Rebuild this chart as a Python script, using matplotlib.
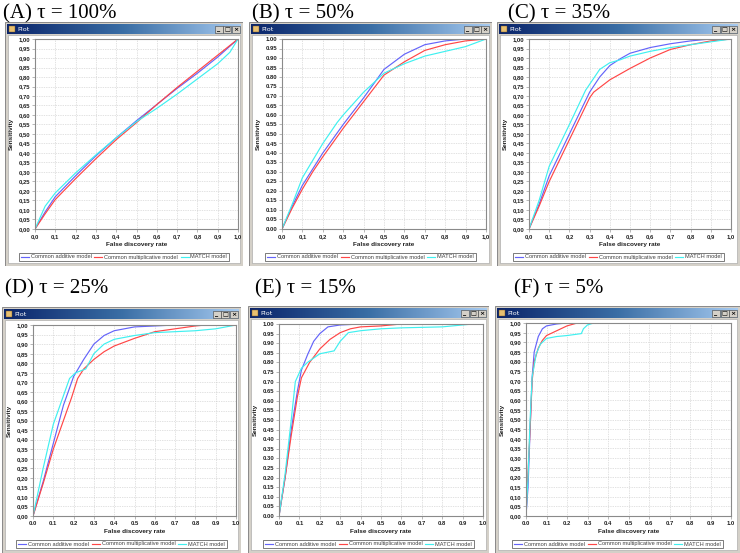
"""
Six ROC-style panels (sensitivity vs false discovery rate) drawn as
screenshots of small "Plot" windows, one per tau level.
"""

import numpy as np
import matplotlib
matplotlib.use("Agg")
import matplotlib.pyplot as plt
import matplotlib.ticker as mticker
from matplotlib.patches import Rectangle

# ── Data ────────────────────────────────────────────────────────────────────
MODELS = ["Common additive model", "Common multiplicative model", "MATCH model"]
COLORS = ["#6464fa", "#ff4646", "#3ff0f0"]

LABELS = ["(A) \u03c4 = 100%", "(B) \u03c4 = 50%", "(C) \u03c4 = 35%",
          "(D) \u03c4 = 25%", "(E) \u03c4 = 15%", "(F) \u03c4 = 5%"]
Y_SEP = [",", ".", ",", ",", ".", ","]   # decimal mark on the y ticks
X_SEP = [",", ",", ",", ".", ".", "."]   # decimal mark on the x ticks

# (A) tau = 100%
A_ADD_FDR = [0, 0.05, 0.1, 0.2, 0.3, 0.4, 0.5, 0.6, 0.7, 0.8, 0.9, 1.0]
A_ADD_SENS = [0, 0.09, 0.17, 0.28, 0.385, 0.48, 0.57, 0.655, 0.74, 0.82, 0.905, 1.0]
A_MUL_FDR = [0, 0.05, 0.1, 0.2, 0.3, 0.4, 0.5, 0.6, 0.7, 0.8, 0.9, 1.0]
A_MUL_SENS = [0, 0.08, 0.155, 0.265, 0.37, 0.47, 0.56, 0.655, 0.745, 0.83, 0.915, 1.0]
A_MAT_FDR = [0, 0.05, 0.1, 0.2, 0.3, 0.4, 0.5, 0.6, 0.7, 0.8, 0.9, 0.96, 1.0]
A_MAT_SENS = [0, 0.12, 0.19, 0.295, 0.39, 0.48, 0.565, 0.635, 0.71, 0.79, 0.87, 0.93, 1.0]

# (B) tau = 50%
B_ADD_FDR = [0, 0.05, 0.1, 0.2, 0.3, 0.4, 0.5, 0.6, 0.7, 0.8, 0.9, 1.0]
B_ADD_SENS = [0, 0.12, 0.23, 0.40, 0.55, 0.69, 0.84, 0.92, 0.97, 0.99, 1.0, 1.0]
B_MUL_FDR = [0, 0.05, 0.1, 0.15, 0.2, 0.3, 0.4, 0.5, 0.55, 0.6, 0.7, 0.8, 0.9, 1.0]
B_MUL_SENS = [0, 0.11, 0.21, 0.30, 0.38, 0.53, 0.67, 0.81, 0.845, 0.88, 0.94, 0.97, 0.99, 1.0]
B_MAT_FDR = [0, 0.05, 0.1, 0.15, 0.2, 0.27, 0.3, 0.4, 0.5, 0.6, 0.7, 0.8, 0.9, 1.0]
B_MAT_SENS = [0, 0.13, 0.27, 0.36, 0.45, 0.56, 0.60, 0.72, 0.82, 0.87, 0.91, 0.935, 0.96, 1.0]

# (C) tau = 35%
C_ADD_FDR = [0, 0.05, 0.1, 0.2, 0.3, 0.35, 0.4, 0.45, 0.5, 0.6, 0.7, 0.8, 0.9, 1.0]
C_ADD_SENS = [0, 0.13, 0.28, 0.50, 0.72, 0.80, 0.86, 0.895, 0.925, 0.955, 0.975, 0.99, 1.0, 1.0]
C_MUL_FDR = [0, 0.05, 0.1, 0.2, 0.25, 0.3, 0.32, 0.4, 0.5, 0.6, 0.7, 0.8, 0.9, 1.0]
C_MUL_SENS = [0, 0.12, 0.25, 0.47, 0.58, 0.69, 0.72, 0.785, 0.845, 0.90, 0.945, 0.97, 0.99, 1.0]
C_MAT_FDR = [0, 0.05, 0.1, 0.15, 0.2, 0.28, 0.35, 0.4, 0.45, 0.5, 0.6, 0.7, 0.8, 0.9, 1.0]
C_MAT_SENS = [0, 0.15, 0.33, 0.44, 0.55, 0.73, 0.84, 0.875, 0.89, 0.91, 0.935, 0.955, 0.97, 0.985, 1.0]

# (D) tau = 25%
D_ADD_FDR = [0, 0.05, 0.1, 0.15, 0.2, 0.25, 0.3, 0.35, 0.4, 0.5, 0.6, 0.7, 1.0]
D_ADD_SENS = [0, 0.18, 0.38, 0.58, 0.73, 0.82, 0.90, 0.945, 0.97, 0.99, 0.995, 1.0, 1.0]
D_MUL_FDR = [0, 0.05, 0.1, 0.15, 0.19, 0.22, 0.25, 0.3, 0.35, 0.4, 0.5, 0.6, 0.7, 0.8, 0.85, 1.0]
D_MUL_SENS = [0, 0.17, 0.35, 0.50, 0.62, 0.72, 0.77, 0.82, 0.86, 0.89, 0.93, 0.965, 0.98, 0.995, 1.0, 1.0]
D_MAT_FDR = [0, 0.05, 0.1, 0.15, 0.18, 0.21, 0.26, 0.3, 0.35, 0.4, 0.5, 0.6, 0.7, 0.8, 0.9, 1.0]
D_MAT_SENS = [0, 0.25, 0.48, 0.63, 0.72, 0.75, 0.77, 0.85, 0.90, 0.925, 0.945, 0.96, 0.965, 0.97, 0.98, 1.0]

# (E) tau = 15%
E_ADD_FDR = [0, 0.03, 0.06, 0.09, 0.11, 0.14, 0.17, 0.2, 0.24, 0.3, 0.4, 1.0]
E_ADD_SENS = [0, 0.2, 0.45, 0.65, 0.76, 0.84, 0.91, 0.95, 0.985, 0.995, 1.0, 1.0]
E_MUL_FDR = [0, 0.03, 0.06, 0.09, 0.11, 0.15, 0.2, 0.25, 0.3, 0.35, 0.4, 0.5, 0.6, 1.0]
E_MUL_SENS = [0, 0.2, 0.42, 0.62, 0.72, 0.80, 0.87, 0.92, 0.955, 0.975, 0.985, 0.99, 1.0, 1.0]
E_MAT_FDR = [0, 0.03, 0.06, 0.08, 0.11, 0.14, 0.2, 0.27, 0.3, 0.34, 0.4, 0.5, 0.6, 0.8, 0.95, 1.0]
E_MAT_SENS = [0, 0.22, 0.5, 0.7, 0.77, 0.80, 0.845, 0.86, 0.91, 0.955, 0.965, 0.975, 0.98, 0.985, 1.0, 1.0]

# (F) tau = 5%
F_ADD_FDR = [0, 0.01, 0.02, 0.03, 0.04, 0.06, 0.08, 0.1, 0.15, 0.2, 1.0]
F_ADD_SENS = [0, 0.15, 0.45, 0.72, 0.85, 0.93, 0.97, 0.985, 0.995, 1.0, 1.0]
F_MUL_FDR = [0, 0.005, 0.02, 0.03, 0.04, 0.06, 0.08, 0.1, 0.15, 0.2, 0.25, 1.0]
F_MUL_SENS = [0, 0.12, 0.45, 0.70, 0.80, 0.87, 0.91, 0.935, 0.96, 0.985, 1.0, 1.0]
F_MAT_FDR = [0, 0.01, 0.02, 0.03, 0.05, 0.07, 0.1, 0.15, 0.2, 0.27, 0.28, 0.3, 0.33, 1.0]
F_MAT_SENS = [0, 0.2, 0.5, 0.72, 0.84, 0.89, 0.92, 0.93, 0.935, 0.945, 0.97, 0.99, 1.0, 1.0]

CURVES = [
    [(A_ADD_FDR, A_ADD_SENS), (A_MUL_FDR, A_MUL_SENS), (A_MAT_FDR, A_MAT_SENS)],
    [(B_ADD_FDR, B_ADD_SENS), (B_MUL_FDR, B_MUL_SENS), (B_MAT_FDR, B_MAT_SENS)],
    [(C_ADD_FDR, C_ADD_SENS), (C_MUL_FDR, C_MUL_SENS), (C_MAT_FDR, C_MAT_SENS)],
    [(D_ADD_FDR, D_ADD_SENS), (D_MUL_FDR, D_MUL_SENS), (D_MAT_FDR, D_MAT_SENS)],
    [(E_ADD_FDR, E_ADD_SENS), (E_MUL_FDR, E_MUL_SENS), (E_MAT_FDR, E_MAT_SENS)],
    [(F_ADD_FDR, F_ADD_SENS), (F_MUL_FDR, F_MUL_SENS), (F_MAT_FDR, F_MAT_SENS)],
]

# ── Layout (pixels on a 740x553 canvas) ─────────────────────────────────────
W, H = 740, 553
# window box (x0, y0, x1, y1), plot box (x0, y0, x1, y1), label anchor (x, y)
WINDOWS = [(5, 22, 243, 266), (249, 22, 492, 266), (497, 22, 740, 266),
           (2, 307, 241, 553), (248, 306, 489, 553), (495, 306, 740, 553)]
PLOTS = [(35, 39, 238, 229), (282, 39, 486, 229), (529, 39, 731, 229),
         (33, 325, 236, 516), (279, 324, 483, 516), (526, 323, 731, 516)]
LABEL_POS = [(3, 14), (252, 14), (508, 14), (5, 289), (255, 289), (514, 289)]

SANS = "Liberation Sans"
SERIF = "Liberation Serif"


def fig_box(x0, y0, x1, y1):
    return [x0 / W, 1 - y1 / H, (x1 - x0) / W, (y1 - y0) / H]


def draw_window(fig, box):
    x0, y0, x1, y1 = box
    w, h = x1 - x0, y1 - y0
    ax = fig.add_axes(fig_box(*box), zorder=0)
    ax.set_xlim(0, w)
    ax.set_ylim(h, 0)
    ax.axis("off")
    ax.add_patch(Rectangle((0, 0), w, h, fc="#d4d0c8", ec="#7a7a7a", lw=0.6))
    ax.add_patch(Rectangle((3, 13), w - 6, h - 16, fc="white", ec="#a0a0a0", lw=0.4))
    # title bar gradient
    grad = np.linspace(0, 1, 256).reshape(1, -1)
    cmap = matplotlib.colors.LinearSegmentedColormap.from_list(
        "tb", ["#0a246a", "#3a6ea5", "#a6caf0"])
    ax.imshow(grad, cmap=cmap, extent=(2, w - 2, 12, 2), aspect="auto", zorder=2)
    ax.add_patch(Rectangle((4, 4), 6, 6, fc="#e8c070", ec="#705020", lw=0.3, zorder=3))
    ax.text(12, 7.2, "Plot", color="white", fontsize=4.6,
            family="DejaVu Sans", va="center", ha="left", zorder=3)
    for i, sym in enumerate(["_", "\u25a1", "\u00d7"]):
        bx = w - 28 + i * 8.5
        ax.add_patch(Rectangle((bx, 3.5), 8, 7, fc="#d4d0c8", ec="#404040", lw=0.4, zorder=3))
        ax.text(bx + 4, 7.2, sym, fontsize=4.5, ha="center", va="center",
                color="black", family="DejaVu Sans", fontweight="bold", zorder=4)
    return ax


def sep_formatter(fmt, sep):
    return mticker.FuncFormatter(lambda v, _: format(v, fmt).replace(".", sep))


fig = plt.figure(figsize=(W / 100, H / 100), dpi=100)
fig.patch.set_facecolor("white")

for i in range(6):
    draw_window(fig, WINDOWS[i])
    px0, py0, px1, py1 = PLOTS[i]
    ax = fig.add_axes(fig_box(*PLOTS[i]), zorder=2)
    ax.set_facecolor("white")
    for (fdr, sens), color, name in zip(CURVES[i], COLORS, MODELS):
        ax.plot(fdr, sens, color=color, lw=0.85, label=name)
    ax.set_xlim(0, 1)
    ax.set_ylim(0, 1)
    ax.xaxis.set_major_locator(mticker.MultipleLocator(0.1))
    ax.yaxis.set_major_locator(mticker.MultipleLocator(0.05))
    ax.xaxis.set_major_formatter(sep_formatter(".1f", X_SEP[i]))
    ax.yaxis.set_major_formatter(sep_formatter(".2f", Y_SEP[i]))
    ax.tick_params(labelsize=4.2, length=2, width=0.4, color="#808080", pad=1.5,
                   labelcolor="#202020")
    for lab in ax.get_xticklabels() + ax.get_yticklabels():
        lab.set_family(SANS)
        lab.set_fontweight("bold")
    ax.grid(True, color="#c4c4c4", lw=0.5, linestyle=(0, (1, 1.5)))
    for sp in ax.spines.values():
        sp.set_color("#8a8a8a")
        sp.set_linewidth(0.8)
    ax.set_xlabel("False discovery rate", fontsize=4.6, family=SANS,
                  fontweight="bold", color="#202020", labelpad=2)
    ax.set_ylabel("Sensitivity", fontsize=4.6, family=SANS,
                  fontweight="bold", color="#202020", labelpad=3)

    wx0, wy0, wx1, wy1 = WINDOWS[i]
    leg = ax.legend(loc="center", ncol=3,
                    bbox_to_anchor=((wx0 + wx1) / 2 / W, 1 - (py1 + 28) / H),
                    bbox_transform=fig.transFigure, frameon=True, fancybox=False,
                    edgecolor="#404040", handlelength=1.4, handletextpad=0.3,
                    columnspacing=0.5, borderpad=0.35, prop={"family": SANS, "size": 4.1})
    leg.get_frame().set_linewidth(0.6)
    for t in leg.get_texts():
        t.set_color("#404040")

    lx, ly = LABEL_POS[i]
    fig.text(lx / W, 1 - ly / H, LABELS[i], fontsize=15, family=SERIF,
             va="center", ha="left", color="black")

fig.savefig("out.png", dpi=100)
